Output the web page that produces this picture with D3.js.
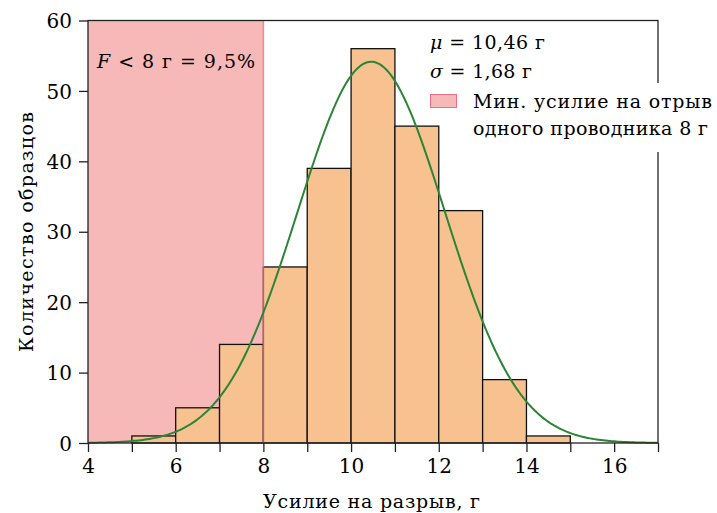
<!DOCTYPE html>
<html>
<head>
<meta charset="utf-8">
<script src="https://cdn.jsdelivr.net/npm/d3@7"></script>
<style>
  body { margin: 0; background: #fff; }
  text { font-family: "DejaVu Serif", "Liberation Serif", serif; fill: #000; }
</style>
</head>
<body>
<div id="chart"></div>
<script>
// Histogram bins (left edges) and counts
let binStarts = [5, 6, 7, 8, 9, 10, 11, 12, 13, 14];
let binCounts = [1, 5, 14, 25, 39, 56, 45, 33, 9, 1];
let binWidth = 1;

// Fitted normal curve params (from annotation)
let mu = 10.46;
let sigma = 1.68;

// Threshold region
let spanFrom = 4;
let spanTo = 8;

let xTicks = [4, 5, 6, 7, 8, 9, 10, 11, 12, 13, 14, 15, 16, 17];
let xLabels = [4, 6, 8, 10, 12, 14, 16];
let yTicks = [0, 10, 20, 30, 40, 50, 60];

let width = 717, height = 513;
let margin = { left: 88, right: 59, top: 20.5, bottom: 70 };

let svg = d3.select("#chart").append("svg")
  .attr("width", width)
  .attr("height", height);

let x = d3.scaleLinear().domain([4, 17]).range([margin.left, width - margin.right]);
let y = d3.scaleLinear().domain([0, 60]).range([height - margin.bottom, margin.top]);

//Pink span for values below 8
svg.append("rect")
  .attr("x", x(spanFrom))
  .attr("y", y(60))
  .attr("width", x(spanTo) - x(spanFrom))
  .attr("height", y(0) - y(60))
  .attr("fill", "#f7b8b8");

//Histogram bars
svg.selectAll(".bar")
  .data(binStarts)
  .enter()
  .append("rect")
  .attr("class", "bar")
  .attr("x", (d) => x(d))
  .attr("y", (d, i) => y(binCounts[i]))
  .attr("width", (d) => x(d + binWidth) - x(d))
  .attr("height", (d, i) => y(0) - y(binCounts[i]))
  .attr("fill", "#f8c190")
  .attr("stroke", "#111")
  .attr("stroke-width", 1.3);

//Span edge at 8 drawn on top, semi-transparent
svg.append("line")
  .attr("x1", x(spanTo)).attr("x2", x(spanTo))
  .attr("y1", y(0)).attr("y2", y(60))
  .attr("stroke", "#ee6e88")
  .attr("stroke-opacity", 0.8)
  .attr("stroke-width", 1.5);

//Normal curve scaled to the counts
let total = d3.sum(binCounts);
let curvePts = d3.range(4, 17.001, 0.05).map(function (v) {
  let z = (v - mu) / sigma;
  return [v, total * binWidth / (sigma * Math.sqrt(2 * Math.PI)) * Math.exp(-0.5 * z * z)];
});
svg.append("path")
  .datum(curvePts)
  .attr("fill", "none")
  .attr("stroke", "#2a8535")
  .attr("stroke-width", 2)
  .attr("d", d3.line().x((d) => x(d[0])).y((d) => y(d[1])));

//Spines
svg.append("rect")
  .attr("x", x(4)).attr("y", y(60))
  .attr("width", x(17) - x(4)).attr("height", y(0) - y(60))
  .attr("fill", "none")
  .attr("stroke", "#222")
  .attr("stroke-width", 1.3);

//X axis ticks
let xAxis = svg.append("g")
  .attr("transform", "translate(0," + y(0) + ")")
  .call(d3.axisBottom(x).tickValues(xTicks).tickSize(9).tickPadding(7)
    .tickFormat((d) => xLabels.includes(d) ? d : ""));
xAxis.select(".domain").remove();
xAxis.selectAll("line").attr("stroke", "#222").attr("stroke-width", 1.3);
xAxis.selectAll("text").style("font-size", "20px").attr("font-family", null);

//Y axis ticks
let yAxis = svg.append("g")
  .attr("transform", "translate(" + x(4) + ",0)")
  .call(d3.axisLeft(y).tickValues(yTicks).tickSize(9).tickPadding(7));
yAxis.select(".domain").remove();
yAxis.selectAll("line").attr("stroke", "#222").attr("stroke-width", 1.3);
yAxis.selectAll("text").style("font-size", "20px").attr("font-family", null).attr("dy", "0.36em");

//Axis titles
svg.append("text")
  .attr("x", 263)
  .attr("y", 508)
  .attr("textLength", 217)
  .attr("lengthAdjust", "spacing")
  .style("font-size", "19px")
  .text("Усилие на разрыв, г");

svg.append("text")
  .attr("transform", "translate(33," + 352 + ") rotate(-90)")
  .attr("textLength", 240)
  .attr("lengthAdjust", "spacing")
  .style("font-size", "19px")
  .text("Количество образцов");

//Annotation inside pink area
let ann = svg.append("text")
  .attr("x", 97)
  .attr("y", 68)
  .attr("textLength", 158)
  .attr("lengthAdjust", "spacing")
  .style("font-size", "19px");
ann.append("tspan").style("font-style", "italic").text("F");
ann.append("tspan").text(" < 8 г = 9,5%");

//Legend with white background covering the spine
svg.append("rect")
  .attr("x", 440).attr("y", 83)
  .attr("width", 277).attr("height", 69)
  .attr("fill", "#fff");

svg.append("text")
  .attr("x", 430).attr("y", 49)
  .attr("textLength", 115)
  .attr("lengthAdjust", "spacing")
  .style("font-size", "19px")
  .html("<tspan font-style='italic'>μ</tspan> = 10,46 г");
svg.append("text")
  .attr("x", 430).attr("y", 78)
  .attr("textLength", 102)
  .attr("lengthAdjust", "spacing")
  .style("font-size", "19px")
  .html("<tspan font-style='italic'>σ</tspan> = 1,68 г");

svg.append("rect")
  .attr("x", 430.5).attr("y", 94.5)
  .attr("width", 26).attr("height", 13)
  .attr("fill", "#f7b8b8")
  .attr("stroke", "#ee6e88")
  .attr("stroke-width", 1);

svg.append("text")
  .attr("x", 473).attr("y", 108)
  .attr("textLength", 239)
  .attr("lengthAdjust", "spacing")
  .style("font-size", "19px")
  .text("Мин. усилие на отрыв");
svg.append("text")
  .attr("x", 473).attr("y", 135)
  .attr("textLength", 235)
  .attr("lengthAdjust", "spacing")
  .style("font-size", "19px")
  .text("одного проводника 8 г");
</script>
</body>
</html>
